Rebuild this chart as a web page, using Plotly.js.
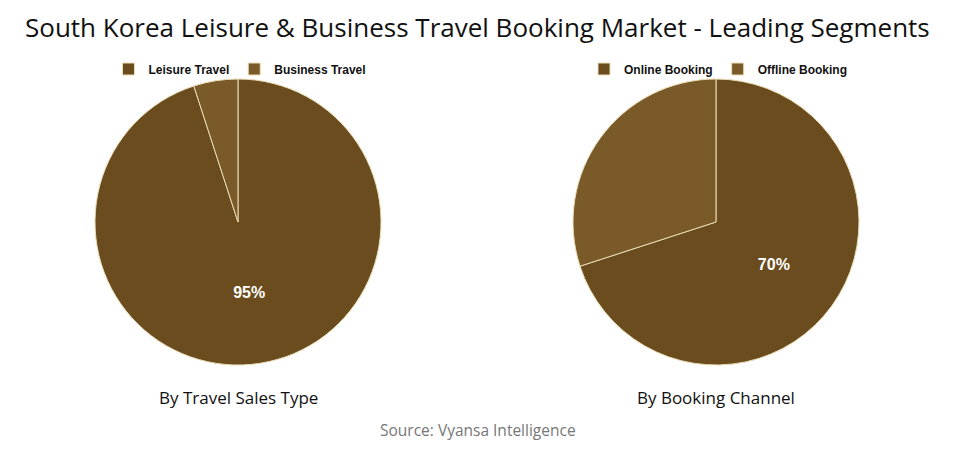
<!DOCTYPE html>
<html>
<head>
<meta charset="utf-8">
<script src="https://cdn.plot.ly/plotly-3.0.1.min.js"></script>
<style>html,body{margin:0;padding:0;background:#fff;}#chart{width:955px;height:454px;}</style>
</head>
<body>
<div id="chart"></div>
<script>
const chartTitle = "South Korea Leisure & Business Travel Booking Market - Leading Segments";
const salesTypeLabels = ["Leisure Travel", "Business Travel"];
const salesTypeValues = [95, 5];
const salesTypeText = ["95%", ""];
const channelLabels = ["Online Booking", "Offline Booking"];
const channelValues = [70, 30];
const channelText = ["70%", ""];
const subtitles = ["By Travel Sales Type", "By Booking Channel"];
const sourceText = "Source: Vyansa Intelligence";
const sliceColors = ["#6B4C1E", "#7B5A2A"];

const W = 955, H = 454;
function px(x){return x/W;}
function py(y){return 1 - y/H;}

const common = {
  type: "pie",
  sort: false,
  direction: "clockwise",
  rotation: 0,
  textinfo: "text",
  textposition: "inside",
  insidetextorientation: "horizontal",
  insidetextfont: {family: "Liberation Sans, Arial, sans-serif", size: 16, color: "#ffffff", weight: "bold"},
  marker: {colors: sliceColors, line: {color: "#E9DDB5", width: 1}},
  hoverinfo: "label+percent"
};

const data = [
  Object.assign({}, common, {
    labels: salesTypeLabels, values: salesTypeValues, text: salesTypeText,
    domain: {x: [px(95), px(381)], y: [py(365), py(79)]},
    legend: "legend"
  }),
  Object.assign({}, common, {
    labels: channelLabels, values: channelValues, text: channelText,
    domain: {x: [px(573), px(859)], y: [py(365), py(79)]},
    legend: "legend2"
  })
];

const legendFont = {family: "Liberation Sans, Arial, sans-serif", size: 12, color: "#111", weight: "bold"};
const layout = {
  width: W, height: H,
  margin: {l: 0, r: 0, t: 0, b: 0},
  paper_bgcolor: "#ffffff",
  showlegend: true,
  legend: {orientation: "h", x: px(240), xanchor: "center", y: py(69), yanchor: "middle",
           font: legendFont, itemwidth: 30, bgcolor: "rgba(0,0,0,0)"},
  legend2: {orientation: "h", x: px(718), xanchor: "center", y: py(69), yanchor: "middle",
           font: legendFont, itemwidth: 30, bgcolor: "rgba(0,0,0,0)"},
  annotations: [
    {text: chartTitle, x: 0.5, y: py(27), xref: "paper", yref: "paper", showarrow: false,
     xanchor: "center", yanchor: "middle", font: {family: "Open Sans, sans-serif", size: 26, color: "#111"}},
    {text: subtitles[0], x: px(238), y: py(397), xref: "paper", yref: "paper", showarrow: false,
     xanchor: "center", yanchor: "middle", font: {family: "Open Sans, sans-serif", size: 17, color: "#111"}},
    {text: subtitles[1], x: px(716), y: py(397), xref: "paper", yref: "paper", showarrow: false,
     xanchor: "center", yanchor: "middle", font: {family: "Open Sans, sans-serif", size: 17, color: "#111"}},
    {text: sourceText, x: 0.5, y: py(430), xref: "paper", yref: "paper", showarrow: false,
     xanchor: "center", yanchor: "middle", font: {family: "Open Sans, sans-serif", size: 15.5, color: "#777"}}
  ]
};

Plotly.newPlot("chart", data, layout, {displayModeBar: false, staticPlot: true});
</script>
</body>
</html>
